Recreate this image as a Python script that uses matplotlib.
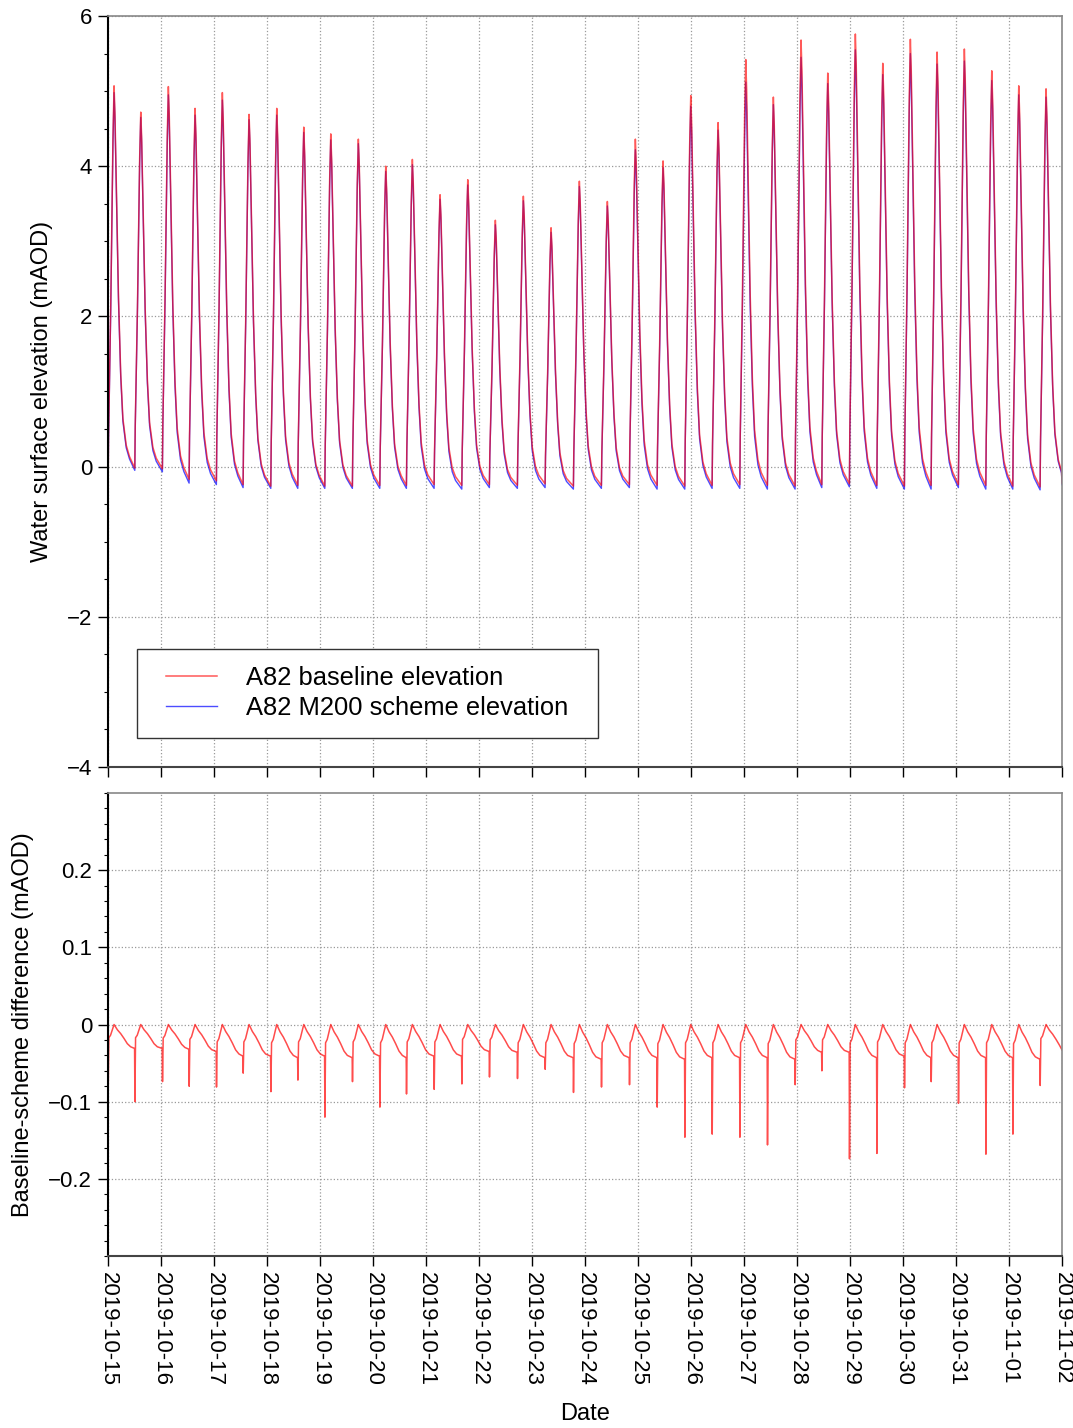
import numpy as np
import pandas as pd
import matplotlib
matplotlib.use("Agg")
import matplotlib.pyplot as plt
import matplotlib.dates as mdates
from matplotlib import ticker
from matplotlib.legend_handler import HandlerLine2D

plt.rcParams['font.family'] = ['Liberation Sans', 'DejaVu Sans']

start = pd.Timestamp("2019-10-15 00:00")
end_hours = 18 * 24

# high water times (hours after 2019-10-15 00:00)
hw_hours = [2.72, 14.81, 27.31, 39.40, 51.76, 63.85, 76.39, 88.62, 100.85, 113.34,
            125.75, 137.80, 150.34, 162.88, 175.38, 188.06, 200.60, 213.42, 226.10, 238.78,
            251.32, 263.86, 276.23, 288.77, 301.27, 313.81, 325.90, 338.40, 350.81, 363.31,
            375.40, 387.76, 400.17, 412.39, 424.75]

# high water levels (mAOD)
hw_base = [5.07, 4.72, 5.06, 4.77, 4.98, 4.69, 4.77, 4.52, 4.43, 4.36,
           4.00, 4.09, 3.62, 3.82, 3.28, 3.60, 3.18, 3.80, 3.53, 4.36,
           4.07, 4.94, 4.58, 5.42, 4.92, 5.68, 5.24, 5.76, 5.37, 5.69,
           5.52, 5.56, 5.27, 5.07, 5.03]
hw_scheme = [4.98, 4.65, 4.95, 4.68, 4.88, 4.62, 4.68, 4.45, 4.35, 4.30,
             3.93, 4.02, 3.56, 3.75, 3.22, 3.54, 3.12, 3.73, 3.47, 4.22,
             3.98, 4.80, 4.48, 5.12, 4.82, 5.45, 5.10, 5.55, 5.22, 5.50,
             5.36, 5.40, 5.14, 4.95, 4.92]

# low water level before each flood (and at the end of the record)
lw_base = [-0.25, -0.02, -0.03, -0.17, -0.19, -0.24, -0.26, -0.25, -0.26, -0.26,
           -0.25, -0.25, -0.24, -0.25, -0.24, -0.25, -0.23, -0.26, -0.25, -0.24,
           -0.25, -0.26, -0.25, -0.24, -0.25, -0.26, -0.24, -0.23, -0.25, -0.26,
           -0.25, -0.24, -0.25, -0.26, -0.27, -0.22]
lw_scheme = [-0.28, -0.05, -0.07, -0.22, -0.24, -0.28, -0.29, -0.29, -0.29, -0.29,
             -0.29, -0.29, -0.29, -0.30, -0.28, -0.29, -0.28, -0.30, -0.29, -0.28,
             -0.30, -0.30, -0.29, -0.29, -0.30, -0.30, -0.28, -0.27, -0.29, -0.30,
             -0.30, -0.28, -0.30, -0.30, -0.31, -0.24]

# tidal curve shape read from one cycle: hours from high water, fraction of range
rise_dt = [-2.7, -2.5, -2.0, -1.5, -1.0, -0.5, 0.0]
rise_f = [0.0, 0.12, 0.28, 0.45, 0.65, 0.87, 1.0]
fall_dt = [0.4, 1.0, 2.0, 3.0, 4.0, 5.5, 7.0]
fall_f = [0.93, 0.75, 0.45, 0.25, 0.13, 0.06, 0.03]

# difference panel: spike at start of flood, level just before it
diff_spike = [-0.084, -0.100, -0.074, -0.080, -0.081, -0.063, -0.087, -0.072, -0.120, -0.074,
              -0.107, -0.090, -0.084, -0.077, -0.068, -0.070, -0.058, -0.088, -0.081, -0.078,
              -0.107, -0.146, -0.142, -0.146, -0.156, -0.078, -0.060, -0.174, -0.167, -0.082,
              -0.074, -0.102, -0.168, -0.142, -0.079]
diff_pre = [-0.041, -0.031, -0.031, -0.032, -0.035, -0.041, -0.041, -0.043, -0.041, -0.043,
            -0.041, -0.043, -0.041, -0.041, -0.035, -0.036, -0.043, -0.043, -0.045, -0.043,
            -0.043, -0.045, -0.043, -0.043, -0.043, -0.045, -0.036, -0.036, -0.043, -0.041,
            -0.043, -0.043, -0.043, -0.043, -0.045, -0.033]
diff_dt = [-2.65, -2.35, -1.6, 0.0, 1.5, 3.0, 4.5, 6.0, 7.5]
diff_f = [None, 0.55, 0.45, 0.0, 0.22, 0.38, 0.58, 0.8, 0.93]


def tide_series(hw, lw):
    t, v = [0.0], [lw[0]]
    for i, tp in enumerate(hw_hours):
        h = hw[i]
        for dt, f in zip(rise_dt, rise_f):
            t.append(tp + dt)
            v.append(lw[i] + f * (h - lw[i]))
        for dt, f in zip(fall_dt, fall_f):
            t.append(tp + dt)
            v.append(lw[i + 1] + f * (h - lw[i + 1]))
    t.append(end_hours)
    v.append(lw[-1])
    t, v = np.array(t), np.array(v)
    keep = (t >= 0) & (t <= end_hours)
    return t[keep], v[keep]


def diff_series():
    t, v = [0.0], [diff_pre[0]]
    for i, tp in enumerate(hw_hours):
        lvl = diff_pre[i + 1]
        for dt, f in zip(diff_dt, diff_f):
            t.append(tp + dt)
            v.append(diff_spike[i] if f is None else f * lvl)
        if i + 1 < len(hw_hours):
            t.append(hw_hours[i + 1] - 2.8)
            v.append(lvl)
    t.append(end_hours)
    v.append(diff_pre[-1])
    t, v = np.array(t), np.array(v)
    keep = (t >= 0) & (t <= end_hours)
    return t[keep], v[keep]


def to_dates(hours):
    return start + pd.to_timedelta(hours, unit="h")


tb, vb = tide_series(hw_base, lw_base)
ts, vs = tide_series(hw_scheme, lw_scheme)
td, vd = diff_series()

fig = plt.figure(figsize=(10.73, 14.28), dpi=100)
ax1 = fig.add_axes([0.1007, 0.4629, 0.8891, 0.5259])
ax2 = fig.add_axes([0.1007, 0.1204, 0.8891, 0.3243])

ax1.plot(to_dates(ts), vs, color="blue", alpha=0.7, lw=1.0, label="A82 M200 scheme elevation")
ax1.plot(to_dates(tb), vb, color="red", alpha=0.65, lw=1.1, label="A82 baseline elevation")
ax2.plot(to_dates(td), vd, color="red", alpha=0.7, lw=1.1)

handles, labels = ax1.get_legend_handles_labels()
handles, labels = handles[::-1], labels[::-1]
leg = ax1.legend(handles, labels, loc="lower left", mode="expand",
                 bbox_to_anchor=(0.0304, 0.0386, 0.4833, 0.1), borderaxespad=0,
                 fontsize=18.4, frameon=True, fancybox=False, edgecolor="#333333",
                 framealpha=1, handlelength=2.42, handletextpad=1.17,
                 labelspacing=0.24, borderpad=0.69,
                 handler_map={h: HandlerLine2D(xpad=0.43) for h in handles})
leg.get_frame().set_linewidth(1.0)

ax1.set_ylim(-4, 6)
ax1.yaxis.set_major_locator(ticker.MultipleLocator(2))
ax1.yaxis.set_minor_locator(ticker.MultipleLocator(0.5))
ax1.set_ylabel("Water surface elevation (mAOD)", fontsize=17, labelpad=10)

ax2.set_ylim(-0.3, 0.3)
ax2.yaxis.set_major_locator(ticker.FixedLocator([-0.2, -0.1, 0, 0.1, 0.2]))
ax2.yaxis.set_minor_locator(ticker.MultipleLocator(0.02))
ax2.yaxis.set_major_formatter(ticker.FuncFormatter(lambda y, p: f"{y:g}".replace("-", "\u2212")))
ax2.set_ylabel("Baseline-scheme difference (mAOD)", fontsize=17, labelpad=10)
ax2.set_xlabel("Date", fontsize=17, labelpad=12)

for ax in (ax1, ax2):
    ax.set_xlim(start, start + pd.Timedelta(days=18))
    ax.xaxis.set_major_locator(mdates.DayLocator())
    ax.xaxis.set_major_formatter(mdates.DateFormatter("%Y-%m-%d"))
    ax.grid(True, which="major", linestyle=":", color="#999999", lw=0.9)
    ax.tick_params(which="major", direction="out", length=7.5, width=1.0, labelsize=16,
                   pad=4, top=False, right=False)
    ax.tick_params(which="minor", direction="out", length=3, width=0.8, top=False, right=False)
    ax.tick_params(axis="x", which="minor", bottom=False)
    ax.spines["left"].set_color("black")
    ax.spines["left"].set_linewidth(1.5)
    ax.spines["bottom"].set_color("#444444")
    ax.spines["bottom"].set_linewidth(1.5)
    for s in ("top", "right"):
        ax.spines[s].set_color("#888888")
        ax.spines[s].set_linewidth(1.2)

ax1.tick_params(axis="x", labelbottom=False)
for lbl in ax2.get_xticklabels():
    lbl.set_rotation(-90)
    lbl.set_ha("center")
    lbl.set_va("top")

fig.savefig("out.png", dpi=100)
